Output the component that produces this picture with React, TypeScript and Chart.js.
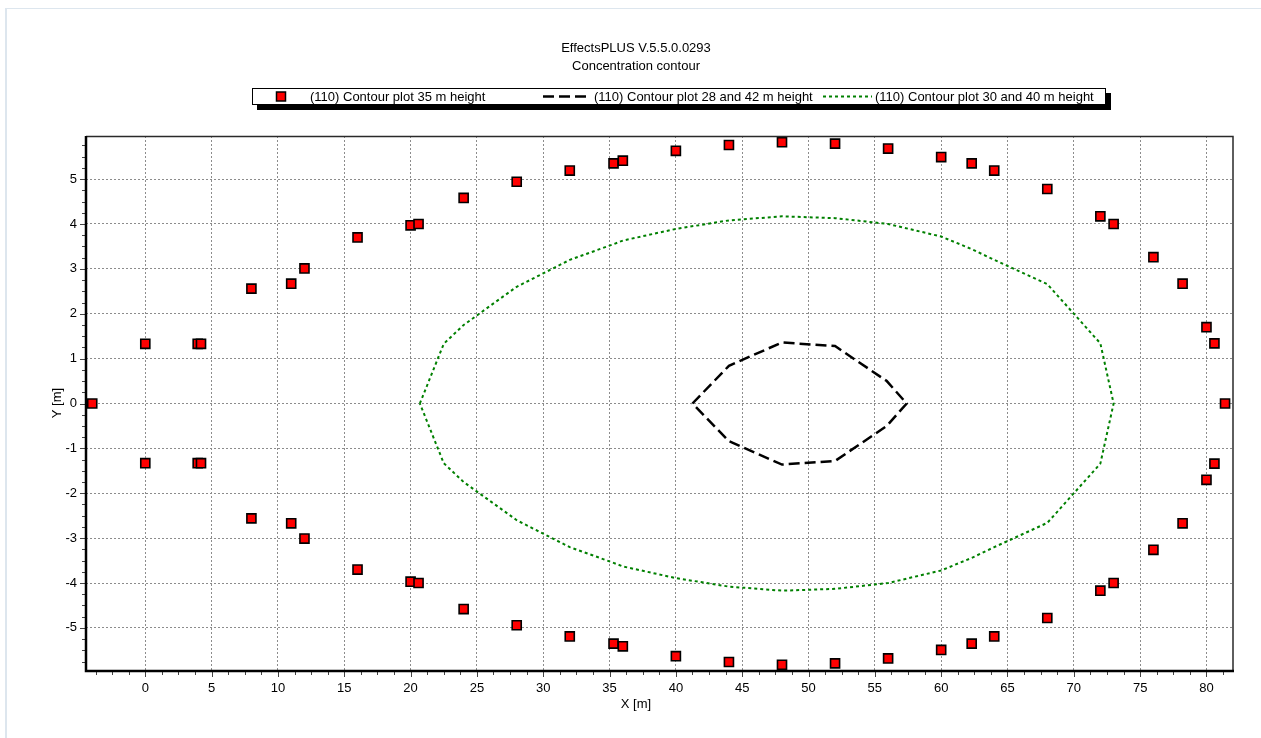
import { useEffect, useRef } from "react";
import { Chart, registerables } from "chart.js";

Chart.register(...registerables);

const FONT = "'Liberation Sans', Arial, sans-serif";

const TITLE_LINES = ["EffectsPLUS V.5.5.0.0293", "Concentration contour"];
const X_TITLE = "X [m]";
const Y_TITLE = "Y [m]";
const SERIES_NAMES = [
  "(110) Contour plot 35 m height",
  "(110) Contour plot 28 and 42 m height",
  "(110) Contour plot 30 and 40 m height",
];

const X_MIN = -4.47;
const X_MAX = 82.0;
const Y_MIN = -5.96;
const Y_MAX = 5.96;
const X_TICKS = [0, 5, 10, 15, 20, 25, 30, 35, 40, 45, 50, 55, 60, 65, 70, 75, 80];
const Y_TICKS = [-5, -4, -3, -2, -1, 0, 1, 2, 3, 4, 5];

// 35 m height contour points, upper side
const C35_UPPER_X = [-4, 0, 3.95, 4.2, 8, 11, 12, 16, 20, 20.6, 24, 28, 32, 35.3, 36, 40, 44, 48, 52, 56, 60, 62.3, 64, 68, 72, 73, 76, 78.2, 80, 80.6, 81.4];
const C35_UPPER_Y = [0, 1.33, 1.33, 1.33, 2.56, 2.67, 3.01, 3.7, 3.97, 4.0, 4.58, 4.94, 5.19, 5.35, 5.41, 5.63, 5.76, 5.82, 5.79, 5.68, 5.49, 5.35, 5.19, 4.78, 4.17, 4.0, 3.26, 2.67, 1.7, 1.34, 0];
// 35 m height contour points, lower side
const C35_LOWER_X = [0, 3.95, 4.2, 8, 11, 12, 16, 20, 20.6, 24, 28, 32, 35.3, 36, 40, 44, 48, 52, 56, 60, 62.3, 64, 68, 72, 73, 76, 78.2, 80, 80.6];
const C35_LOWER_Y = [-1.33, -1.33, -1.33, -2.56, -2.67, -3.01, -3.7, -3.97, -4.0, -4.58, -4.94, -5.19, -5.35, -5.41, -5.63, -5.76, -5.82, -5.79, -5.68, -5.49, -5.35, -5.19, -4.78, -4.17, -4.0, -3.26, -2.67, -1.7, -1.34];

// 28 / 42 m height contour (closed outline)
const C28_X = [41.25, 44, 48, 52, 55.9, 57.4, 55.9, 52, 48, 44, 41.25];
const C28_Y = [0, 0.84, 1.36, 1.28, 0.5, 0, -0.5, -1.28, -1.36, -0.84, 0];

// 30 / 40 m height contour (closed outline)
const C30_X = [20.7, 22.5, 24, 28, 32, 35.3, 36, 40, 44, 48, 52, 56, 60, 62.3, 64, 68, 72, 73, 72, 68, 64, 62.3, 60, 56, 52, 48, 44, 40, 36, 35.3, 32, 28, 24, 22.5, 20.7];
const C30_Y = [0, 1.33, 1.75, 2.6, 3.2, 3.55, 3.63, 3.89, 4.08, 4.17, 4.13, 4.0, 3.72, 3.44, 3.2, 2.66, 1.34, 0, -1.34, -2.66, -3.2, -3.44, -3.72, -4.0, -4.13, -4.17, -4.08, -3.89, -3.63, -3.55, -3.2, -2.6, -1.75, -1.33, 0];

const zip = (xs: number[], ys: number[]) => xs.map((x, i) => ({ x, y: ys[i] }));

const RED = "#ff0000";
const GREEN = "#008000";

const decorPlugin = {
  id: "decor",
  afterDraw(chart: any) {
    const { ctx, chartArea: a, scales } = chart;
    const xs = scales.x;
    const ys = scales.y;
    ctx.save();

    // outer panel edge
    ctx.fillStyle = "#dde6ee";
    ctx.fillRect(5, 8, 2, 730);
    ctx.fillRect(5, 8, 1256, 1);

    // minor / major tick marks outside the plot frame
    ctx.strokeStyle = "#444";
    ctx.lineWidth = 1;
    ctx.beginPath();
    for (let v = -3.75; v <= X_MAX; v += 1.25) {
      const px = Math.round(xs.getPixelForValue(v)) + 0.5;
      const major = Math.abs(v / 5 - Math.round(v / 5)) < 1e-6;
      ctx.moveTo(px, a.bottom);
      ctx.lineTo(px, a.bottom + (major ? 6 : 4));
    }
    for (let v = -5.75; v <= Y_MAX; v += 0.25) {
      const py = Math.round(ys.getPixelForValue(v)) + 0.5;
      const major = Math.abs(v - Math.round(v)) < 1e-6;
      ctx.moveTo(a.left, py);
      ctx.lineTo(a.left - (major ? 6 : 4), py);
    }
    ctx.stroke();

    // plot frame
    ctx.strokeStyle = "#2a2a2a";
    ctx.lineWidth = 1.5;
    ctx.beginPath();
    ctx.moveTo(a.left, a.top + 0.5);
    ctx.lineTo(a.right, a.top + 0.5);
    ctx.lineTo(a.right, a.bottom);
    ctx.stroke();
    ctx.strokeStyle = "#000";
    ctx.lineWidth = 2.5;
    ctx.beginPath();
    ctx.moveTo(a.left, a.top);
    ctx.lineTo(a.left, a.bottom);
    ctx.lineTo(a.right + 1, a.bottom);
    ctx.stroke();

    // titles
    ctx.fillStyle = "#000";
    ctx.font = `13px ${FONT}`;
    ctx.textAlign = "center";
    ctx.textBaseline = "middle";
    ctx.fillText(TITLE_LINES[0], 636, 48.5);
    ctx.fillText(TITLE_LINES[1], 636, 66.5);

    // axis titles
    ctx.fillText(X_TITLE, 636, 704);
    ctx.save();
    ctx.translate(57, 403);
    ctx.rotate(-Math.PI / 2);
    ctx.fillText(Y_TITLE, 0, 0);
    ctx.restore();

    // legend box with drop shadow
    const bx = 252, by = 88, bw = 854, bh = 17;
    ctx.fillStyle = "#000";
    ctx.fillRect(bx + 5, by + 5, bw, bh);
    ctx.fillStyle = "#fff";
    ctx.fillRect(bx, by, bw, bh);
    ctx.strokeStyle = "#000";
    ctx.lineWidth = 1;
    ctx.strokeRect(bx + 0.5, by + 0.5, bw - 1, bh - 1);

    const cy = by + bh / 2;
    // marker entry
    ctx.fillStyle = RED;
    ctx.fillRect(276.5, cy - 4.5, 9, 9);
    ctx.strokeStyle = "#000";
    ctx.lineWidth = 1.5;
    ctx.strokeRect(276.5, cy - 4.5, 9, 9);
    // dashed entry
    ctx.save();
    ctx.strokeStyle = "#000";
    ctx.lineWidth = 2.5;
    ctx.setLineDash([11, 5]);
    ctx.beginPath();
    ctx.moveTo(543, cy);
    ctx.lineTo(591, cy);
    ctx.stroke();
    // dotted entry
    ctx.strokeStyle = GREEN;
    ctx.lineWidth = 2;
    ctx.setLineDash([3, 3]);
    ctx.beginPath();
    ctx.moveTo(823, cy);
    ctx.lineTo(872, cy);
    ctx.stroke();
    ctx.restore();

    ctx.fillStyle = "#000";
    ctx.font = `13px ${FONT}`;
    ctx.textAlign = "left";
    ctx.fillText(SERIES_NAMES[0], 310, cy + 0.5);
    ctx.fillText(SERIES_NAMES[1], 594, cy + 0.5);
    ctx.fillText(SERIES_NAMES[2], 875, cy + 0.5);

    ctx.restore();
  },
};

export default function App() {
  const canvasRef = useRef<HTMLCanvasElement | null>(null);

  useEffect(() => {
    const canvas = canvasRef.current;
    if (!canvas) return;
    const chart = new Chart(canvas, {
      type: "scatter",
      data: {
        datasets: [
          {
            label: SERIES_NAMES[0],
            data: [...zip(C35_UPPER_X, C35_UPPER_Y), ...zip(C35_LOWER_X, C35_LOWER_Y)],
            showLine: false,
            pointStyle: "rect",
            pointRadius: 6.4,
            pointHoverRadius: 6.4,
            backgroundColor: RED,
            borderColor: "#000",
            borderWidth: 1.6,
          },
          {
            label: SERIES_NAMES[1],
            data: zip(C28_X, C28_Y),
            showLine: true,
            pointRadius: 0,
            borderColor: "#000",
            borderWidth: 2.5,
            borderDash: [11, 5],
            fill: false,
          },
          {
            label: SERIES_NAMES[2],
            data: zip(C30_X, C30_Y),
            showLine: true,
            pointRadius: 0,
            borderColor: GREEN,
            borderWidth: 2,
            borderDash: [3, 3],
            fill: false,
          },
        ],
      },
      options: {
        animation: false,
        responsive: false,
        devicePixelRatio: 1,
        events: [],
        layout: { padding: { left: 0, top: 136, right: 28, bottom: 0 } },
        plugins: {
          legend: { display: false },
          title: { display: false },
          tooltip: { enabled: false },
        },
        scales: {
          x: {
            type: "linear",
            min: X_MIN,
            max: X_MAX,
            afterBuildTicks: (axis: any) => {
              axis.ticks = X_TICKS.map((value) => ({ value }));
            },
            afterFit: (scale: any) => {
              scale.height = 67;
            },
            grid: { color: "#8c8c8c", lineWidth: 1, drawTicks: false },
            border: { display: false, dash: [2, 2] },
            ticks: {
              color: "#000",
              font: { family: FONT, size: 13 },
              padding: 10,
              maxRotation: 0,
              autoSkip: false,
            },
          },
          y: {
            type: "linear",
            min: Y_MIN,
            max: Y_MAX,
            afterBuildTicks: (axis: any) => {
              axis.ticks = Y_TICKS.map((value) => ({ value }));
            },
            afterFit: (scale: any) => {
              scale.width = 86;
            },
            grid: { color: "#8c8c8c", lineWidth: 1, drawTicks: false },
            border: { display: false, dash: [2, 2] },
            ticks: {
              color: "#000",
              font: { family: FONT, size: 13 },
              padding: 9,
              autoSkip: false,
            },
          },
        },
      },
      plugins: [decorPlugin],
    });
    return () => chart.destroy();
  }, []);

  return (
    <div style={{ position: "fixed", left: 0, top: 0, width: 1261, height: 738, background: "#fff" }}>
      <canvas ref={canvasRef} width={1261} height={738} style={{ width: 1261, height: 738, display: "block" }} />
    </div>
  );
}
